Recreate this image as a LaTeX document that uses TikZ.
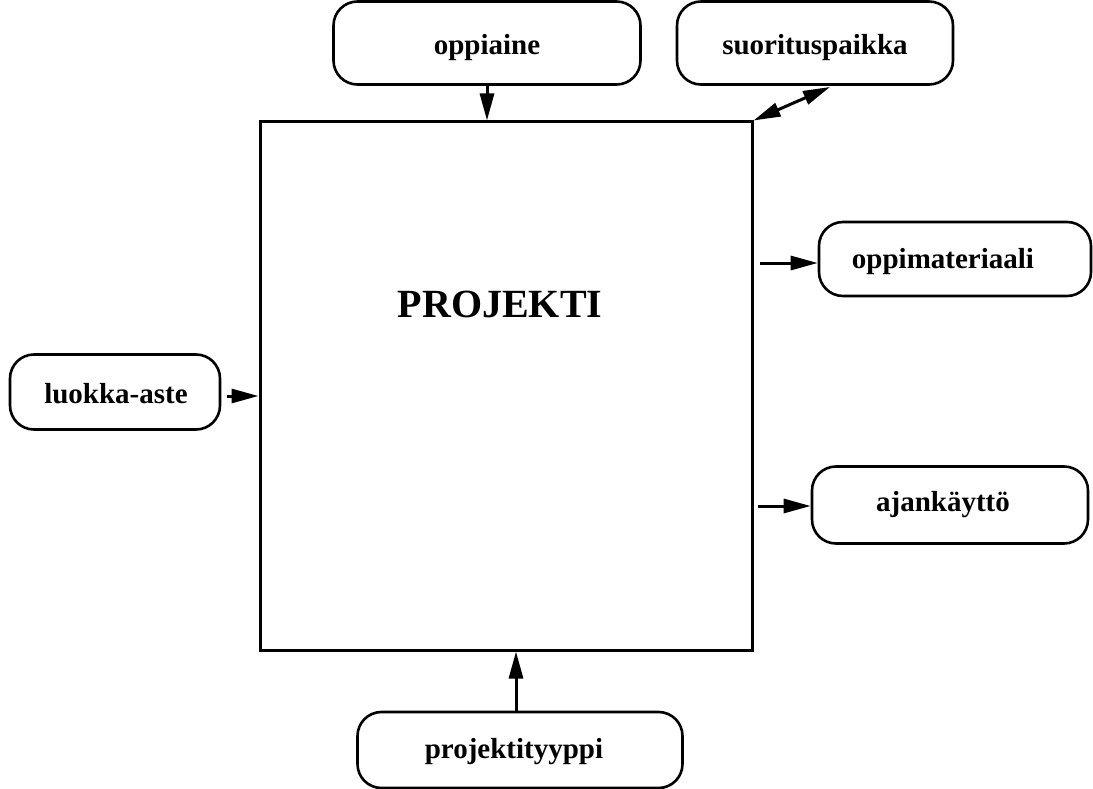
\documentclass[tikz,border=0pt]{standalone}
\usepackage{fontspec}
\setmainfont{Liberation Serif}
\usetikzlibrary{arrows.meta}
\begin{document}
\begin{tikzpicture}[x=1pt,y=-1pt,
  lbl/.style={draw,line width=2.6pt,rounded corners=24pt,inner sep=0pt,font=\fontsize{29}{33}\selectfont\bfseries},
  conn/.style={line width=3pt,-{Triangle[length=27pt,width=14pt]}},
  conn2/.style={line width=3pt,{Triangle[length=27pt,width=14pt]}-{Triangle[length=27pt,width=14pt]}}]
\useasboundingbox (0,0) rectangle (1093,789);
\node[draw,line width=3pt,minimum width=492pt,minimum height=528pt,inner sep=0pt] (proj) at (506,386) {};
\node[font=\fontsize{40}{44}\selectfont\bfseries] (title) at (500,304) {PROJEKTI};
\node[lbl,minimum width=307pt,minimum height=83pt] (oppiaine) at (487,43) {};
\node[font=\fontsize{29}{33}\selectfont\bfseries] (oppiaineT) at (487,48) {oppiaine};
\node[lbl,minimum width=276pt,minimum height=83pt] (suor) at (815,43) {};
\node[font=\fontsize{29}{33}\selectfont\bfseries] (suorT) at (815,48) {suorituspaikka};
\node[lbl,minimum width=272pt,minimum height=74pt] (mat) at (955,259) {};
\node[font=\fontsize{29}{33}\selectfont\bfseries] (matT) at (943,262) {oppimateriaali};
\node[lbl,minimum width=210pt,minimum height=75pt] (luokka) at (115,392) {};
\node[font=\fontsize{29}{33}\selectfont\bfseries] (luokkaT) at (116,394) {luokka-aste};
\node[lbl,minimum width=276pt,minimum height=77pt] (ajan) at (950,505) {};
\node[font=\fontsize{29}{33}\selectfont\bfseries] (ajanT) at (943,505) {ajankäyttö};
\node[lbl,minimum width=325pt,minimum height=76pt] (tyyppi) at (520,750) {};
\node[font=\fontsize{29}{33}\selectfont\bfseries] (tyyppiT) at (514,752) {projektityyppi};
\coordinate (suorEnd) at (830,87);
\coordinate (matStart) at (760,263);
\coordinate (ajanStart) at (758,506);
\coordinate (luokkaStart) at (227,396);
\coordinate (tyyppiStart) at (516,712);
\draw[conn] (oppiaine.south) -- (oppiaine.south |- proj.north);
\draw[conn2] (proj.north east) -- (suorEnd);
\draw[conn] (matStart) -- (matStart -| mat.west);
\draw[conn] (ajanStart) -- (ajanStart -| ajan.west);
\draw[conn] (luokkaStart) -- (luokkaStart -| proj.west);
\draw[conn] (tyyppiStart) -- (tyyppiStart |- proj.south);
\end{tikzpicture}
\end{document}
